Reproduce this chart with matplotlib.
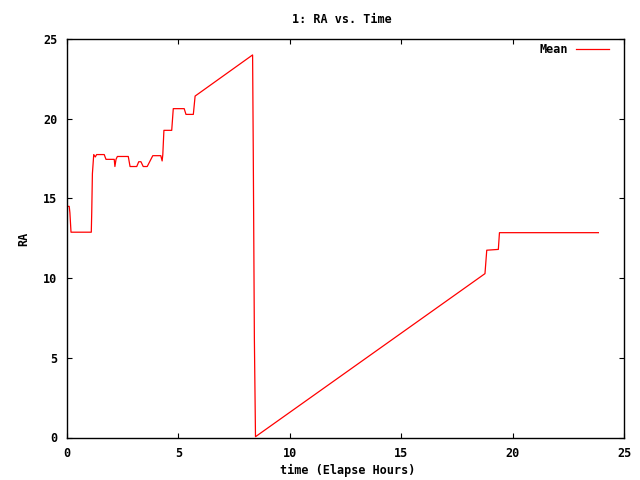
import matplotlib
matplotlib.use("Agg")
import matplotlib.pyplot as plt

# Data (time in elapsed hours, RA)
time_h = [0.00, 0.10, 0.13, 0.18, 1.09, 1.11, 1.14, 1.20, 1.27, 1.33, 1.67, 1.75,
          2.12, 2.15, 2.20, 2.26, 2.75, 2.83, 3.13, 3.22, 3.32, 3.42, 3.60, 3.85,
          4.21, 4.27, 4.30, 4.35, 4.70, 4.77, 5.26, 5.34, 5.67, 5.75, 8.33, 8.36,
          8.41, 8.46, 18.76, 18.84, 19.36, 19.41, 23.85]
ra_mean = [14.50, 14.50, 14.10, 12.88, 12.88, 14.10, 16.55, 17.75, 17.60, 17.75, 17.75, 17.45,
           17.45, 17.00, 17.45, 17.63, 17.63, 17.00, 17.00, 17.30, 17.30, 17.00, 17.00, 17.68,
           17.68, 17.35, 17.75, 19.27, 19.27, 20.63, 20.63, 20.27, 20.27, 21.42, 24.00, 18.00,
           6.20, 0.05, 10.28, 11.75, 11.80, 12.85, 12.85]

x_ticks = [0, 5, 10, 15, 20, 25]
y_ticks = [0, 5, 10, 15, 20, 25]

FONT = "DejaVu Sans Mono"
FS = 8.5

fig = plt.figure(figsize=(6.4, 4.8), dpi=100)
ax = fig.add_axes([67 / 640, 1 - 437.5 / 480, (624 - 67) / 640, (437.5 - 39) / 480])

ax.plot(time_h, ra_mean, color="#ff0000", linewidth=0.9, label="Mean")

ax.set_xlim(0, 25)
ax.set_ylim(0, 25)
ax.set_xticks(x_ticks)
ax.set_yticks(y_ticks)
ax.tick_params(direction="in", length=3.5, width=0.8, top=True, right=True, pad=7,
               labelsize=FS, colors="black")
for lbl in ax.get_xticklabels() + ax.get_yticklabels():
    lbl.set_fontfamily(FONT)
    lbl.set_fontweight("bold")
for sp in ax.spines.values():
    sp.set_linewidth(1.0)
    sp.set_color("black")

fig.text(342 / 640, 1 - 19.5 / 480, "1: RA vs. Time", ha="center", va="center",
         fontsize=FS, fontfamily=FONT, fontweight="bold")
fig.text(347.5 / 640, 1 - 470 / 480, "time (Elapse Hours)", ha="center", va="center",
         fontsize=FS, fontfamily=FONT, fontweight="bold")
fig.text(24 / 640, 1 - 239 / 480, "RA", ha="center", va="center", rotation=90,
         fontsize=FS, fontfamily=FONT, fontweight="bold")

leg = ax.legend(loc="upper right", bbox_to_anchor=(0.973, 0.99), frameon=False,
                markerfirst=False, handlelength=2.8, handletextpad=0.65,
                borderpad=0, borderaxespad=0,
                prop={"family": FONT, "weight": "bold", "size": FS})

fig.savefig("out.png", dpi=100)
